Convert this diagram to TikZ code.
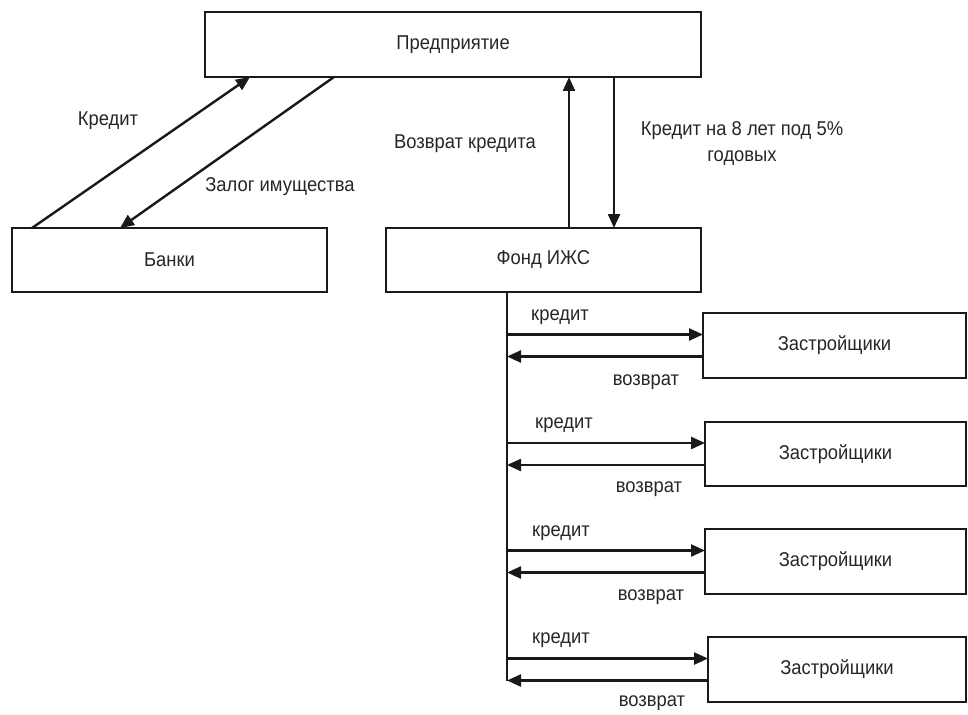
\documentclass[tikz,border=0pt]{standalone}
\usepackage{fontspec}
\setmainfont[FakeStretch=0.92]{Liberation Sans}
\usetikzlibrary{arrows.meta,calc}
\tikzset{
  box/.style={draw=black!90, line width=1.8pt, rectangle, inner sep=0pt, outer sep=0pt, font=\fontsize{20}{24}\selectfont, text=black!85},
  lbl/.style={inner sep=0pt, font=\fontsize{20}{26}\selectfont, text=black!85},
  arr/.style={draw=black!90, line width=2.4pt, -{Triangle[length=14pt,width=12pt]}},
  ln/.style={draw=black!90, line width=1.8pt}
}
\begin{document}
\begin{tikzpicture}[x=1pt,y=-1pt]
\useasboundingbox (0,0) rectangle (968,714);
% boxes
\node[box, minimum width=496pt, minimum height=65pt] (p) at (453,44.5) {Предприятие};
\node[box, minimum width=315pt, minimum height=64pt] (b) at (169.5,260) {Банки};
\node[box, minimum width=315pt, minimum height=64pt] (f) at (543.5,260) {Фонд ИЖС};
\node[box, minimum width=263pt, minimum height=65pt] (z1) at (834.5,345.5) {Застройщики};
\node[box, minimum width=261pt, minimum height=64pt] (z2) at (835.5,454) {Застройщики};
\node[box, minimum width=261pt, minimum height=65pt] (z3) at (835.5,561.5) {Застройщики};
\node[box, minimum width=258pt, minimum height=65pt] (z4) at (837,669.5) {Застройщики};
% bank arrows
\draw[arr] ([xshift=20pt]b.north west) -- ([xshift=45pt]p.south west);
\draw[arr] ([xshift=129pt]p.south west) -- ([xshift=108pt]b.north west);
% fund arrows
\coordinate (fu) at ([xshift=183pt]f.north west);
\coordinate (fd) at ([xshift=228pt]f.north west);
\draw[arr] (fu) -- (fu |- p.south);
\draw[arr] (fd |- p.south) -- (fd);
% trunk
\coordinate (t0) at ([xshift=121pt]f.south west);
\foreach \z in {z1,z2,z3,z4}{
  \coordinate (k\z) at ($(\z.west)+(0,-11)$);
  \coordinate (r\z) at ($(\z.west)+(0,11)$);
}
\draw[ln] (t0) -- (t0 |- rz4);
\foreach \z in {z1,z2,z3,z4}{
  \draw[arr] (t0 |- k\z) -- (k\z);
  \draw[arr] (r\z) -- (t0 |- r\z);
}
% labels
\node[lbl] (l1) at (108,121) {Кредит};
\node[lbl] (l2) at (280,187) {Залог имущества};
\node[lbl] (l3) at (465,144) {Возврат кредита};
\node[lbl, align=center] (l4) at (742,144) {Кредит на 8 лет под 5\%\\годовых};
\node[lbl] (k1) at (560,317) {кредит};
\node[lbl] (k2) at (564,425) {кредит};
\node[lbl] (k3) at (561,533) {кредит};
\node[lbl] (k4) at (561,640) {кредит};
\node[lbl] (v1) at (646,382) {возврат};
\node[lbl] (v2) at (649,489) {возврат};
\node[lbl] (v3) at (651,597) {возврат};
\node[lbl] (v4) at (652,703) {возврат};
\end{tikzpicture}
\end{document}
